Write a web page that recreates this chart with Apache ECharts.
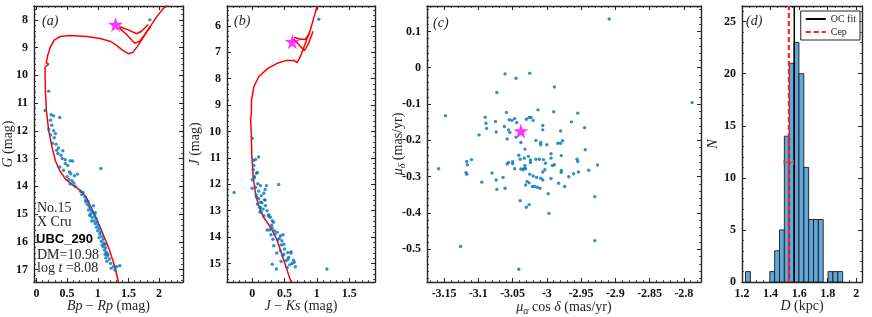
<!DOCTYPE html>
<html><head><meta charset="utf-8">
<script src="https://cdn.jsdelivr.net/npm/echarts@6/dist/echarts.min.js"></script>
<style>html,body{margin:0;padding:0;background:#fff}#c{width:872px;height:317px}</style>
</head><body><div id="c"></div><script>
// ---------- Panel (a): Gaia CMD ----------
const cmdA_bp = [1.85,0.20,0.14,0.24,0.28,0.38,0.23,0.25,0.20,0.28,0.31,0.23,0.29,0.26,0.32,0.36,0.33,0.43,0.35,0.40,0.42,0.47,0.55,0.59,1.05,0.47,0.51,0.38,0.44,0.54,0.56,0.67,0.62,0.50,0.53,0.58,0.61,0.55,0.63,0.72,0.76,0.74,0.79,0.81,0.84,0.83,0.86,0.88,0.85,0.90,0.92,0.88,0.95,0.91,0.97,0.94,0.99,0.96,1.01,0.98,1.03,1.00,1.05,1.03,1.07,1.09,1.06,1.10,1.12,1.09,1.13,1.11,1.14,1.12,1.16,1.13,1.19,1.15,1.21,1.26,1.31,1.36,1.28,1.22,0.93,0.80,0.87,1.02,1.16,1.07,0.96,0.90];
const cmdA_G  = [8.00,10.57,11.27,11.42,11.46,11.52,11.62,11.80,11.95,12.00,12.10,12.15,12.25,12.45,12.48,12.62,12.70,12.72,12.82,12.88,13.00,13.04,13.08,13.09,13.36,13.18,13.25,13.30,13.42,13.48,13.55,13.56,13.62,13.65,13.75,13.80,13.88,13.92,14.00,14.18,14.22,14.30,14.38,14.48,14.55,14.65,14.72,14.78,14.85,14.88,14.95,15.00,15.05,15.12,15.15,15.25,15.28,15.35,15.40,15.48,15.52,15.60,15.65,15.72,15.80,15.90,15.98,16.05,16.10,16.18,16.22,16.30,16.38,16.45,16.50,16.58,16.62,16.70,16.78,16.88,16.90,16.86,17.02,16.95,14.70,14.55,15.05,15.85,16.45,16.12,14.95,15.25];
const isoA_bp = [1.335,1.281,1.173,1.038,0.903,0.811,0.714,0.578,0.470,0.378,0.308,0.254,0.200,0.162,0.146,0.141,0.141,0.200,0.160,0.184,0.227,0.292,0.389,0.551,0.822,1.038,1.200,1.308,1.405,1.497,1.568,1.659,1.751,1.849,1.957,2.065,2.120];
const isoA_G  = [17.45,16.91,16.19,15.47,14.81,14.39,14.15,13.93,13.73,13.43,13.07,12.59,11.99,11.27,10.55,10.06,9.70,9.60,9.55,9.28,8.98,8.72,8.60,8.56,8.60,8.67,8.77,8.92,9.10,9.22,9.18,8.92,8.60,8.26,7.90,7.60,7.48];
const loopA1_bp = [1.351,1.470,1.605,1.686,1.795,1.859];
const loopA1_G  = [8.29,8.53,8.84,8.77,8.44,8.24];
const loopA2_bp = [1.351,1.497,1.632,1.714,1.822];
const loopA2_G  = [8.24,8.36,8.50,8.41,8.17];
const cepA = [1.29, 8.17];

// ---------- Panel (b): 2MASS CMD ----------
const cmdB_jk = [1.03,0.00,0.10,0.05,0.025,0.015,0.066,0.035,0.00,0.087,0.128,0.22,0.41,0.05,0.10,-0.28,0.18,0.14,0.066,0.19,0.128,0.205,0.118,0.17,0.23,0.14,0.18,0.257,0.31,0.33,0.23,0.27,0.31,0.345,0.386,0.29,0.437,0.478,0.32,0.396,0.46,0.49,0.334,0.437,0.55,0.60,0.49,0.565,0.64,0.617,0.31,0.447,0.58,0.668,0.375,0.54,1.157,0.02,0.08,0.06,0.15,0.10,0.13,0.20,0.20,0.08,0.12,0.25,0.28,0.30,0.35,0.42,0.45,0.50,0.55,0.60,0.38,0.65,0.52,0.47,0.00,0.03];
const cmdB_J  = [5.75,10.26,10.97,11.06,11.29,11.45,11.58,11.75,11.83,11.98,12.05,12.05,12.01,12.11,12.26,12.31,12.34,12.43,12.49,12.59,12.68,12.81,12.87,12.94,13.00,13.06,13.19,13.15,13.38,13.44,13.73,13.73,13.66,13.76,13.82,13.91,13.95,13.91,14.08,14.11,14.14,14.27,14.33,14.52,14.58,14.56,14.65,14.77,14.87,15.00,15.03,14.92,15.05,15.12,15.21,15.15,15.21,11.10,11.55,12.40,12.70,12.55,12.90,12.60,12.20,12.75,13.05,13.20,13.25,13.55,13.90,14.05,14.30,14.45,14.85,14.60,14.60,14.95,14.90,14.70,12.15,11.70];
const isoB_jk = [0.600,0.540,0.463,0.386,0.309,0.242,0.170,0.103,0.051,0.015,-0.005,-0.015,-0.025,-0.012,-0.015,-0.010,0.026,0.103,0.242,0.386,0.530,0.643,0.694,0.746,0.823,0.900,0.952,1.003];
const isoB_J  = [15.70,15.25,14.69,14.12,13.74,13.48,13.23,12.85,12.35,11.71,10.96,10.07,9.50,9.47,9.40,8.81,8.30,7.92,7.61,7.42,7.31,7.31,7.39,7.16,6.66,6.15,5.71,5.27];
const loopB1_jk = [0.643,0.746,0.808,0.874,0.941];
const loopB1_J  = [6.51,6.78,6.94,6.66,6.21];
const loopB2_jk = [0.643,0.746,0.823,0.890];
const loopB2_J  = [6.43,6.51,6.51,6.28];
const cepB = [0.62, 6.60];

// ---------- Panel (c): proper motions ----------
const pmRA = [-2.909,-3.061,-3.025,-3.045,-2.989,-3.073,-3.148,-3.090,-3.059,-3.013,-2.990,-2.955,-2.788,-3.089,-3.088,-3.075,-3.074,-3.062,-3.055,-3.051,-3.047,-3.044,-3.056,-3.054,-3.030,-3.026,-3.023,-3.020,-3.006,-3.006,-2.980,-2.964,-2.945,-3.099,-3.058,-3.045,-3.038,-3.032,-3.016,-3.009,-3.009,-3.000,-2.984,-2.980,-2.977,-2.944,-3.158,-3.117,-3.116,-3.110,-3.058,-3.056,-3.050,-3.050,-3.041,-3.039,-3.033,-3.032,-3.027,-3.024,-3.024,-3.016,-3.011,-3.005,-3.002,-2.994,-2.994,-2.979,-2.989,-2.956,-2.955,-2.926,-3.038,-3.031,-3.118,-3.117,-3.095,-3.080,-3.074,-3.064,-3.047,-3.035,-3.033,-3.025,-3.020,-3.006,-3.003,-2.992,-2.979,-2.979,-2.968,-2.961,-2.954,-2.939,-2.983,-2.994,-3.009,-3.006,-3.015,-3.029,-3.073,-3.061,-3.031,-3.026,-3.021,-3.018,-3.014,-3.010,-2.974,-2.998,-3.039,-3.026,-3.030,-2.930,-2.997,-3.126,-2.930,-3.041];
const pmDE = [0.134,-0.017,-0.015,-0.029,-0.053,-0.068,-0.132,-0.136,-0.123,-0.116,-0.121,-0.125,-0.096,-0.153,-0.167,-0.148,-0.177,-0.162,-0.143,-0.145,-0.140,-0.151,-0.171,-0.178,-0.142,-0.137,-0.137,-0.145,-0.159,-0.171,-0.174,-0.149,-0.165,-0.185,-0.196,-0.191,-0.206,-0.224,-0.200,-0.206,-0.212,-0.212,-0.208,-0.208,-0.201,-0.226,-0.278,-0.258,-0.267,-0.253,-0.265,-0.261,-0.259,-0.264,-0.241,-0.252,-0.249,-0.269,-0.244,-0.254,-0.261,-0.252,-0.252,-0.253,-0.263,-0.249,-0.237,-0.242,-0.267,-0.252,-0.258,-0.268,-0.279,-0.278,-0.289,-0.293,-0.315,-0.290,-0.309,-0.302,-0.278,-0.281,-0.277,-0.293,-0.298,-0.287,-0.281,-0.269,-0.283,-0.288,-0.300,-0.292,-0.287,-0.282,-0.318,-0.305,-0.304,-0.309,-0.302,-0.313,-0.335,-0.332,-0.323,-0.317,-0.327,-0.327,-0.329,-0.332,-0.327,-0.347,-0.366,-0.377,-0.384,-0.355,-0.401,-0.492,-0.476,-0.555];
const cepC = [-3.038, -0.174];

// ---------- Panel (d): distance histogram ----------
const binStart = 1.2245, binWidth = 0.034;
const binCounts = [1,0,0,0,0,1,3,5,14,21,23,20,11,6,6,6,0,1,1,1];
const ocD = 1.566;
const cepD = 1.528, cepDerr = 0.033, cepErrN = 11.5;

// ---------- helpers ----------
const zip = (a, b) => a.map((v, i) => [v, b[i]]);
const STAR = 'path://M50,0 L61,35 L98,35 L68,57 L79,91 L50,70 L21,91 L32,57 L2,35 L39,35 Z';
const AX = '#262626';
const serif = 'Liberation Serif';
const nameStyle = {fontFamily: serif, fontSize: 14, color: AX,
  rich: {i: {fontFamily: serif, fontStyle: 'italic', fontSize: 14, color: AX},
         s: {fontFamily: serif, fontStyle: 'italic', fontSize: 10, color: AX, padding: [7, 0, 0, 0]}}};

function axis(o, mirror) {
  const base = {
    type: 'value', scale: true, nameMoveOverlap: false,
    axisLine: {show: true, onZero: false, lineStyle: {color: AX, width: 1.4}},
    axisTick: {show: true, inside: true, length: 4, lineStyle: {color: AX, width: 1}},
    minorTick: {show: true, splitNumber: 5, length: 2, lineStyle: {color: AX, width: 0.8}},
    splitLine: {show: false}, minorSplitLine: {show: false},
    axisLabel: {show: !mirror, fontFamily: serif, fontWeight: 'bold', fontSize: 12, color: '#111', margin: 6,
      showMinLabel: false, showMaxLabel: false},
  };
  const r = Object.assign(base, o);
  if (o.minor) { r.minorTick = Object.assign({}, base.minorTick, {splitNumber: o.minor}); delete r.minor; }
  if (o.labelExtra) { r.axisLabel = Object.assign({}, base.axisLabel, o.labelExtra); delete r.labelExtra; }
  if (mirror) { delete r.name; r.axisLabel = {show: false}; }
  return r;
}
function pair(kind, gi, o) {
  const posA = kind === 'x' ? 'bottom' : 'left', posB = kind === 'x' ? 'top' : 'right';
  return [axis(Object.assign({gridIndex: gi, position: posA}, o), false),
          axis(Object.assign({gridIndex: gi, position: posB}, o), true)];
}

const grids = [
  {left: 34, top: 6, width: 149, height: 276, outerBoundsMode: 'none', containLabel: false},
  {left: 227, top: 6, width: 148, height: 276, outerBoundsMode: 'none', containLabel: false},
  {left: 427, top: 6, width: 274, height: 276, outerBoundsMode: 'none', containLabel: false},
  {left: 742, top: 6, width: 120, height: 276, outerBoundsMode: 'none', containLabel: false},
];

const xAxes = [].concat(
  pair('x', 0, {min: -0.04, max: 2.39, splitNumber: 5, name: '{i|Bp} − {i|Rp} (mag)', nameLocation: 'middle', nameGap: 17, nameTextStyle: nameStyle}),
  pair('x', 1, {min: -0.39, max: 1.9, splitNumber: 5, name: '{i|J} − {i|Ks} (mag)', nameLocation: 'middle', nameGap: 17, nameTextStyle: nameStyle}),
  pair('x', 2, {min: -3.175, max: -2.775, splitNumber: 8, name: '{i|μ}{s|α} cos {i|δ} (mas/yr)', nameLocation: 'middle', nameGap: 17, nameTextStyle: nameStyle}),
  pair('x', 3, {min: 1.2, max: 2.04, splitNumber: 4, minor: 4, labelExtra: {showMinLabel: true}, name: '{i|D} (kpc)', nameLocation: 'middle', nameGap: 17, nameTextStyle: nameStyle})
);
const yAxes = [].concat(
  pair('y', 0, {min: 7.5, max: 17.45, inverse: true, splitNumber: 10, name: '{i|G} (mag)', nameLocation: 'middle', nameGap: 19, nameTextStyle: nameStyle}),
  pair('y', 1, {min: 5.25, max: 15.7, inverse: true, splitNumber: 10, name: '{i|J} (mag)', nameLocation: 'middle', nameGap: 25, nameTextStyle: nameStyle}),
  pair('y', 2, {min: -0.59, max: 0.17, splitNumber: 8, name: '{i|μ}{s|δ} (mas/yr)', nameLocation: 'middle', nameGap: 20, nameTextStyle: nameStyle}),
  pair('y', 3, {min: 0, max: 26.5, splitNumber: 5, labelExtra: {showMinLabel: true}, name: '{i|N}', nameLocation: 'middle', nameGap: 22, nameTextStyle: nameStyle})
);

const dotStyle = {color: '#0072BD'};
const redLine = (data, xi) => ({type: 'line', xAxisIndex: xi, yAxisIndex: xi, data, symbol: 'none', silent: true,
  lineStyle: {color: '#ff0000', width: 1.5}, z: 3, animation: false});
const starS = (pt, xi) => ({type: 'scatter', xAxisIndex: xi, yAxisIndex: xi, data: [pt], symbol: STAR, symbolSize: 15,
  itemStyle: {color: '#ff00ff'}, z: 6, animation: false});
const dots = (data, xi) => ({type: 'scatter', xAxisIndex: xi, yAxisIndex: xi, data, symbolSize: 3.4, itemStyle: dotStyle, z: 4, animation: false});

const dMax = 26.5;
const bins = binCounts.map((n, i) => [binStart + i * binWidth, binStart + (i + 1) * binWidth, n]);

const series = [
  redLine(zip(isoA_bp, isoA_G), 0), redLine(zip(loopA1_bp, loopA1_G), 0), redLine(zip(loopA2_bp, loopA2_G), 0),
  dots(zip(cmdA_bp, cmdA_G), 0), starS(cepA, 0),
  redLine(zip(isoB_jk, isoB_J), 2), redLine(zip(loopB1_jk, loopB1_J), 2), redLine(zip(loopB2_jk, loopB2_J), 2),
  dots(zip(cmdB_jk, cmdB_J), 2), starS(cepB, 2),
  dots(zip(pmRA, pmDE), 4), starS(cepC, 4),
  {type: 'custom', xAxisIndex: 6, yAxisIndex: 6, data: bins, encode: {x: [0, 1], y: 2}, animation: false, z: 2,
   renderItem: (params, api) => {
     const n = api.value(2); if (!n) return null;
     const p0 = api.coord([api.value(0), n]), p1 = api.coord([api.value(1), 0]);
     return {type: 'rect', shape: {x: p0[0], y: p0[1], width: p1[0] - p0[0], height: p1[1] - p0[1]},
             style: {fill: '#62a7d9', stroke: '#1a1a1a', lineWidth: 0.9}};
   }},
  {name: 'OC fit', type: 'line', xAxisIndex: 6, yAxisIndex: 6, data: [[ocD, 0], [ocD, dMax]], symbol: 'none',
   itemStyle: {color: '#000'}, lineStyle: {color: '#000', width: 1.5}, z: 5, animation: false},
  {name: 'Cep', type: 'line', xAxisIndex: 6, yAxisIndex: 6, data: [[cepD, 0], [cepD, dMax]], symbol: 'none',
   itemStyle: {color: '#ff2020'}, lineStyle: {color: '#ff2020', width: 2.2, type: [5, 3]}, z: 5, animation: false},
  {type: 'line', xAxisIndex: 6, yAxisIndex: 6, data: [[cepD - cepDerr, cepErrN], [cepD + cepDerr, cepErrN]],
   symbol: 'rect', symbolSize: [1.2, 5], itemStyle: {color: '#e03030'}, lineStyle: {color: '#e03030', width: 1.2}, z: 6, animation: false},
];

const txt = (text, left, top, extra) => ({type: 'text', left, top, z: 10,
  style: Object.assign({text, fontFamily: serif, fontSize: 14, fill: '#262626'}, extra || {})});

const option = {
  backgroundColor: '#fff',
  animation: false,
  grid: grids,
  xAxis: xAxes,
  yAxis: yAxes,
  series,
  legend: {data: ['OC fit', 'Cep'], orient: 'vertical', right: 12, top: 11, itemWidth: 20, itemHeight: 8, itemGap: 3,
    padding: [3, 4, 3, 4], borderColor: AX, borderWidth: 1, backgroundColor: '#fff', selectedMode: false,
    itemStyle: {opacity: 0},
    textStyle: {fontFamily: serif, fontSize: 10, color: '#262626'}},
  graphic: [
    txt('(a)', 42, 14, {fontStyle: 'italic'}),
    txt('(b)', 234, 14, {fontStyle: 'italic'}),
    txt('(c)', 433, 16, {fontStyle: 'italic'}),
    txt('(d)', 746, 14, {fontStyle: 'italic'}),
    txt('No.15', 37, 201),
    txt('X Cru', 37, 215),
    txt('UBC_290', 36, 233, {fontFamily: 'Liberation Sans', fontWeight: 'bold', fontSize: 13, fill: '#000'}),
    txt('DM=10.98', 37, 248),
    {type: 'text', left: 37, top: 261, z: 10, style: {text: '{r|log }{i|t}{r| =8.08}', fontFamily: serif, fontSize: 14, fill: '#262626',
      rich: {r: {fontFamily: serif, fontSize: 14, fill: '#262626'}, i: {fontFamily: serif, fontSize: 14, fontStyle: 'italic', fill: '#262626'}}}},
  ],
};
const chart = echarts.init(document.getElementById('c'), null, {renderer: 'canvas'});
chart.setOption(option);
</script></body></html>
